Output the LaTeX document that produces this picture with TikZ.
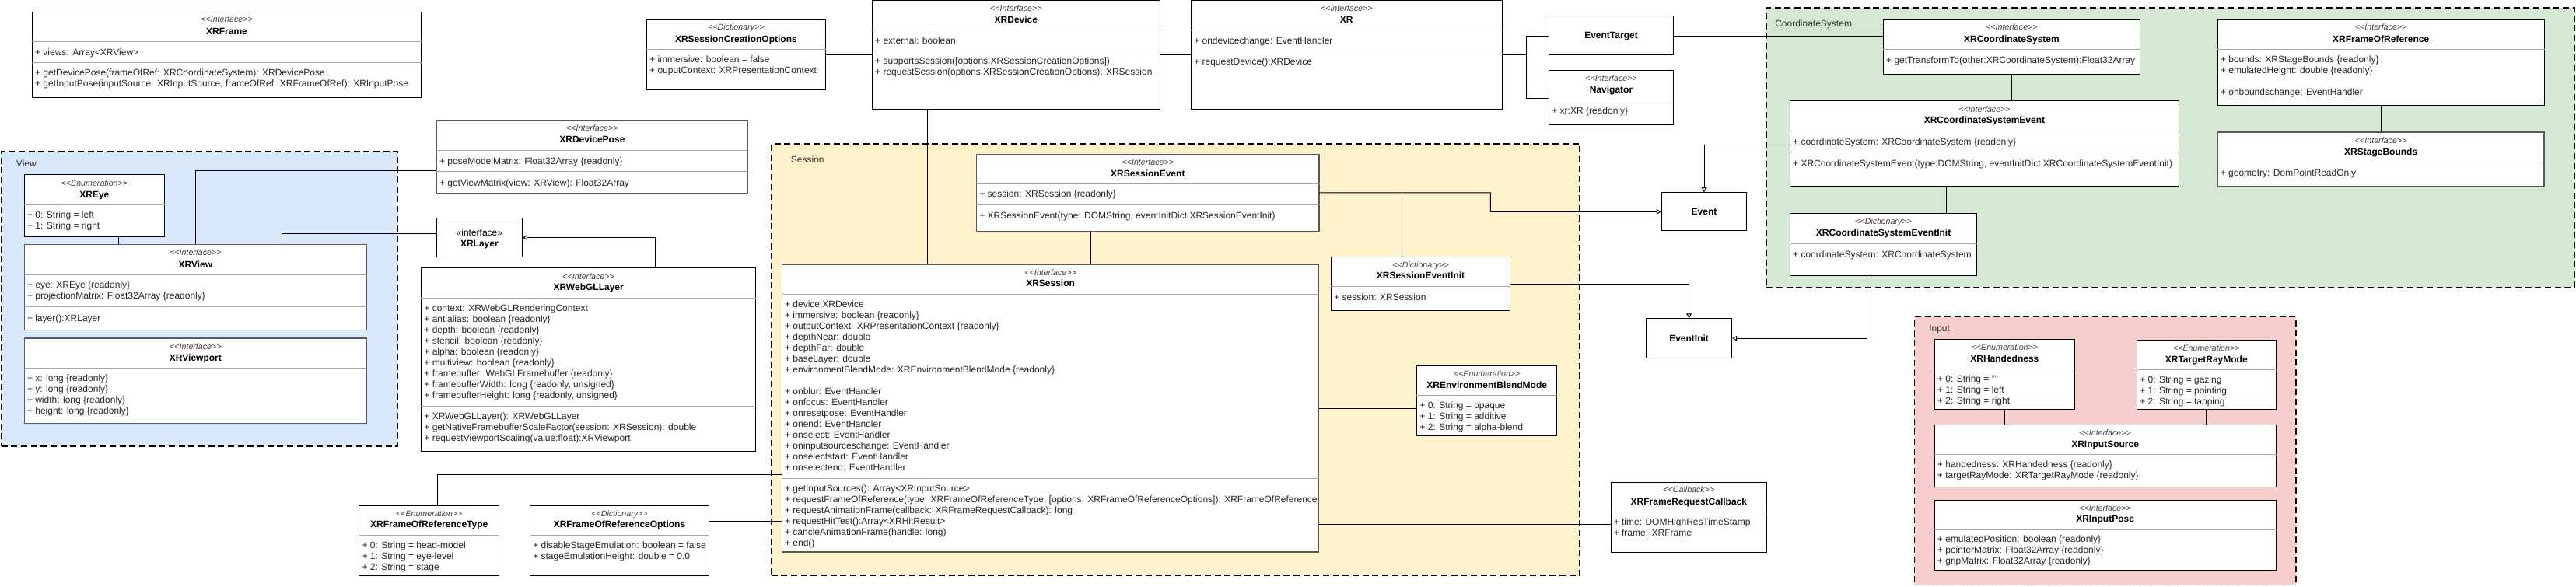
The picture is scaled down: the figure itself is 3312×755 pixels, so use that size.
\documentclass[tikz,border=0pt]{standalone}
\usepackage{fontspec}
\setmainfont{Liberation Sans}
\usetikzlibrary{fit}
\usetikzlibrary{arrows.meta}
\usetikzlibrary{positioning}
\definecolor{viewblue}{HTML}{DAE8FC}
\definecolor{sessyellow}{HTML}{FFF2CC}
\definecolor{csgreen}{HTML}{D5E8D4}
\definecolor{inputred}{HTML}{F8CECC}

\begin{document}
\begin{tikzpicture}[
    x=0.75pt, y=-0.75pt,
    font=\fontsize{9}{10.5}\selectfont
]
\tikzset{
    cls/.style = {draw=black, fill=white, line width=0.75pt, inner sep=0pt},
    clsg/.style = {cls, draw=black!65, line width=1pt},
    grp/.style = {draw=black, line width=1pt, dash pattern=on 6pt off 3.5pt, inner sep=0pt},
    grplabel/.style = {anchor=west, inner sep=0pt, text=black!80},
    stereo/.style = {font=\fontsize{8}{10}\selectfont\itshape, text=black!75, inner sep=0pt, text height=5.7pt, text depth=0pt},
    title/.style = {font=\fontsize{9}{10.5}\selectfont\bfseries, inner sep=0pt, text height=6.5pt, text depth=0pt},
    attr/.style = {anchor=north west, align=left, inner sep=0pt, xshift=3pt, text=black!85, execute at begin node=\strut},
    sep/.style = {draw=black!35, line width=0.6pt},
    assoc/.style = {draw=black, line width=0.75pt},
    gen/.style = {assoc, -{Triangle[open, length=4.5pt, width=5pt]}}
}
\useasboundingbox (0,0) rectangle (3312,755);

% package areas
\node[grp, fill=viewblue, fit={(1.8,195) (511.4,574)}] (view) {};
\node[grplabel] (view-l) at (20.7,210) {View};
\node[grp, fill=sessyellow, fit={(991.7,185) (2031.1,740)}] (session) {};
\node[grplabel] (session-l) at (1016.7,205) {Session};
\node[grp, fill=csgreen, fit={(2271.4,10) (3310.5,369.3)}] (coordsys) {};
\node[grplabel] (coordsys-l) at (2282,31) {CoordinateSystem};
\node[grp, fill=inputred, fit={(2461.6,407.7) (2952,752.7)}] (input) {};
\node[grplabel] (input-l) at (2480,423.3) {Input};

% XRFrame
\node[cls, fit={(41.4,15.3) (541.7,125.3)}] (xrframe) {};
\node[stereo] (xrframe-s) at (xrframe.north |- 0,25) {<{}<Interface>{}>};
\node[title] (xrframe-t) at (xrframe.north |- 0,40) {XRFrame};
\draw[sep] (xrframe.west |- 0,53) -- (xrframe.east |- 0,53);
\draw[sep] (xrframe.west |- 0,80.3) -- (xrframe.east |- 0,80.3);
\node[attr] (xrframe-a) at (xrframe.west |- 0,61.2) {+ views: Array<XRView>};
\node[attr] (xrframe-o) at (xrframe.west |- 0,88.5) {+ getDevicePose(frameOfRef: XRCoordinateSystem): XRDevicePose\\+ getInputPose(inputSource: XRInputSource, frameOfRef: XRFrameOfRef): XRInputPose};

% XREye
\node[cls, fit={(31.4,224.7) (211.4,304.7)}] (xreye) {};
\node[stereo] (xreye-s) at (xreye.north |- 0,235.7) {<{}<Enumeration>{}>};
\node[title] (xreye-t) at (xreye.north |- 0,250) {XREye};
\draw[sep] (xreye.west |- 0,263.3) -- (xreye.east |- 0,263.3);
\node[attr] (xreye-a) at (xreye.west |- 0,271.2) {+ 0: String = left\\+ 1: String = right};

% XRView
\node[clsg, fit={(31.4,314.3) (471.4,424.3)}] (xrview) {};
\node[stereo] (xrview-s) at (xrview.north |- 0,325) {<{}<Interface>{}>};
\node[title] (xrview-t) at (xrview.north |- 0,340) {XRView};
\draw[sep] (xrview.west |- 0,353.3) -- (xrview.east |- 0,353.3);
\draw[sep] (xrview.west |- 0,394.3) -- (xrview.east |- 0,394.3);
\node[attr] (xrview-a) at (xrview.west |- 0,361.2) {+ eye: XREye \{readonly\}\\+ projectionMatrix: Float32Array \{readonly\}};
\node[attr] (xrview-o) at (xrview.west |- 0,403.2) {+ layer():XRLayer};

% XRViewport
\node[clsg, fit={(31.4,435) (471.4,544.7)}] (xrviewport) {};
\node[stereo] (xrviewport-s) at (xrviewport.north |- 0,446) {<{}<Interface>{}>};
\node[title] (xrviewport-t) at (xrviewport.north |- 0,459.7) {XRViewport};
\draw[sep] (xrviewport.west |- 0,473.3) -- (xrviewport.east |- 0,473.3);
\node[attr] (xrviewport-a) at (xrviewport.west |- 0,481.2) {+ x: long \{readonly\}\\+ y: long \{readonly\}\\+ width: long \{readonly\}\\+ height: long \{readonly\}};

% XRDevicePose
\node[clsg, fit={(561.4,155) (961.4,248.3)}] (xrdevicepose) {};
\node[stereo] (xrdevicepose-s) at (xrdevicepose.north |- 0,165) {<{}<Interface>{}>};
\node[title] (xrdevicepose-t) at (xrdevicepose.north |- 0,179.3) {XRDevicePose};
\draw[sep] (xrdevicepose.west |- 0,193.3) -- (xrdevicepose.east |- 0,193.3);
\draw[sep] (xrdevicepose.west |- 0,220.7) -- (xrdevicepose.east |- 0,220.7);
\node[attr] (xrdevicepose-a) at (xrdevicepose.west |- 0,201.2) {+ poseModelMatrix: Float32Array \{readonly\}};
\node[attr] (xrdevicepose-o) at (xrdevicepose.west |- 0,229.5) {+ getViewMatrix(view: XRView): Float32Array};

% XRLayer
\node[cls, fit={(561.4,280.7) (671.4,330.3)}] (xrlayer) {};
\node[inner sep=0pt, text height=6.5pt, text depth=0pt] (xrlayer-s) at (xrlayer.north |- 0,299) {«interface»};
\node[title] (xrlayer-t) at (xrlayer.north |- 0,313.3) {XRLayer};

% XRWebGLLayer
\node[cls, fit={(541.7,345) (971.6,580)}] (xrwebgl) {};
\node[stereo] (xrwebgl-s) at (xrwebgl.north |- 0,355.7) {<{}<Interface>{}>};
\node[title] (xrwebgl-t) at (xrwebgl.north |- 0,369) {XRWebGLLayer};
\draw[sep] (xrwebgl.west |- 0,383.3) -- (xrwebgl.east |- 0,383.3);
\draw[sep] (xrwebgl.west |- 0,522.3) -- (xrwebgl.east |- 0,522.3);
\node[attr] (xrwebgl-a) at (xrwebgl.west |- 0,391.2) {+ context: XRWebGLRenderingContext\\+ antialias: boolean \{readonly\}\\+ depth: boolean \{readonly\}\\+ stencil: boolean \{readonly\}\\+ alpha: boolean \{readonly\}\\+ multiview: boolean \{readonly\}\\+ framebuffer: WebGLFramebuffer \{readonly\}\\+ framebufferWidth: long \{readonly, unsigned\}\\+ framebufferHeight: long \{readonly, unsigned\}};
\node[attr] (xrwebgl-o) at (xrwebgl.west |- 0,530.2) {+ XRWebGLLayer(): XRWebGLLayer\\+ getNativeFramebufferScaleFactor(session: XRSession): double\\+ requestViewportScaling(value:float):XRViewport};

% XRSessionCreationOptions
\node[cls, fit={(831.4,25.7) (1061.4,115.3)}] (xrsco) {};
\node[stereo] (xrsco-s) at (xrsco.north |- 0,34.7) {<{}<Dictionary>{}>};
\node[title] (xrsco-t) at (xrsco.north |- 0,50) {XRSessionCreationOptions};
\draw[sep] (xrsco.west |- 0,63) -- (xrsco.east |- 0,63);
\node[attr] (xrsco-a) at (xrsco.west |- 0,71.2) {+ immersive: boolean = false\\+ ouputContext: XRPresentationContext};

% XRDevice
\node[cls, fit={(1121.4,1) (1491.4,140.3)}] (xrdevice) {};
\node[stereo] (xrdevice-s) at (xrdevice.north |- 0,11) {<{}<Interface>{}>};
\node[title] (xrdevice-t) at (xrdevice.north |- 0,25) {XRDevice};
\draw[sep] (xrdevice.west |- 0,38.3) -- (xrdevice.east |- 0,38.3);
\draw[sep] (xrdevice.west |- 0,65.3) -- (xrdevice.east |- 0,65.3);
\node[attr] (xrdevice-a) at (xrdevice.west |- 0,46.2) {+ external: boolean};
\node[attr] (xrdevice-o) at (xrdevice.west |- 0,73.8) {+ supportsSession([options:XRSessionCreationOptions])\\+ requestSession(options:XRSessionCreationOptions): XRSession};

% XR
\node[cls, fit={(1531.5,1) (1931,140.3)}] (xr) {};
\node[stereo] (xr-s) at (xr.north |- 0,11) {<{}<Interface>{}>};
\node[title] (xr-t) at (xr.north |- 0,25) {XR};
\draw[sep] (xr.west |- 0,38.3) -- (xr.east |- 0,38.3);
\draw[sep] (xr.west |- 0,65.3) -- (xr.east |- 0,65.3);
\node[attr] (xr-a) at (xr.west |- 0,46.2) {+ ondevicechange: EventHandler};
\node[attr] (xr-o) at (xr.west |- 0,73.5) {+ requestDevice():XRDevice};

% EventTarget, Navigator
\node[cls, fit={(1991.6,20.7) (2151.4,70.3)}] (eventtarget) {};
\node[title] (eventtarget-t) at (eventtarget.center) {EventTarget};
\node[cls, fit={(1991.6,90.3) (2151.4,160.3)}] (navigator) {};
\node[stereo] (navigator-s) at (navigator.north |- 0,100.3) {<{}<Interface>{}>};
\node[title] (navigator-t) at (navigator.north |- 0,115) {Navigator};
\draw[sep] (navigator.west |- 0,128) -- (navigator.east |- 0,128);
\node[attr] (navigator-a) at (navigator.west |- 0,136.5) {+ xr:XR \{readonly\}};

% XRSessionEvent
\node[clsg, fit={(1255.7,198.3) (1695.9,297.7)}] (xrsessionevent) {};
\node[stereo] (xrsessionevent-s) at (xrsessionevent.north |- 0,209) {<{}<Interface>{}>};
\node[title] (xrsessionevent-t) at (xrsessionevent.north |- 0,222.7) {XRSessionEvent};
\draw[sep] (xrsessionevent.west |- 0,236) -- (xrsessionevent.east |- 0,236);
\draw[sep] (xrsessionevent.west |- 0,263.3) -- (xrsessionevent.east |- 0,263.3);
\node[attr] (xrsessionevent-a) at (xrsessionevent.west |- 0,243.8) {+ session: XRSession \{readonly\}};
\node[attr] (xrsessionevent-o) at (xrsessionevent.west |- 0,271.2) {+ XRSessionEvent(type: DOMString, eventInitDict:XRSessionEventInit)};

% XRSession
\node[clsg, fit={(1005.5,340) (1695.7,710)}] (xrsession) {};
\node[stereo] (xrsession-s) at (xrsession.north |- 0,351) {<{}<Interface>{}>};
\node[title] (xrsession-t) at (xrsession.north |- 0,364.3) {XRSession};
\draw[sep] (xrsession.west |- 0,378.3) -- (xrsession.east |- 0,378.3);
\draw[sep] (xrsession.west |- 0,615.7) -- (xrsession.east |- 0,615.7);
\node[attr] (xrsession-a) at (xrsession.west |- 0,386.2) {+ device:XRDevice\\+ immersive: boolean \{readonly\}\\+ outputContext: XRPresentationContext \{readonly\}\\+ depthNear: double\\+ depthFar: double\\+ baseLayer: double\\+ environmentBlendMode: XREnvironmentBlendMode \{readonly\}\\[10.5pt]+ onblur: EventHandler\\+ onfocus: EventHandler\\+ onresetpose: EventHandler\\+ onend: EventHandler\\+ onselect: EventHandler\\+ oninputsourceschange: EventHandler\\+ onselectstart: EventHandler\\+ onselectend: EventHandler};
\node[attr] (xrsession-o) at (xrsession.west |- 0,623.8) {+ getInputSources(): Array<XRInputSource>\\+ requestFrameOfReference(type: XRFrameOfReferenceType, [options: XRFrameOfReferenceOptions]): XRFrameOfReference\\+ requestAnimationFrame(callback: XRFrameRequestCallback): long\\+ requestHitTest():Array<XRHitResult>\\+ cancleAnimationFrame(handle: long)\\+ end()};

% XRSessionEventInit
\node[cls, fit={(1711.5,330.3) (1941.5,400)}] (xrsessioneventinit) {};
\node[stereo] (xrsessioneventinit-s) at (xrsessioneventinit.north |- 0,340.7) {<{}<Dictionary>{}>};
\node[title] (xrsessioneventinit-t) at (xrsessioneventinit.north |- 0,354.3) {XRSessionEventInit};
\draw[sep] (xrsessioneventinit.west |- 0,368.3) -- (xrsessioneventinit.east |- 0,368.3);
\node[attr] (xrsessioneventinit-a) at (xrsessioneventinit.west |- 0,376.2) {+ session: XRSession};

% Event, EventInit
\node[cls, fit={(2136.3,247.7) (2245.7,297)}] (event) {};
\node[title] (event-t) at (event.center) {Event};
\node[cls, fit={(2116.5,410) (2226.7,460.3)}] (eventinit) {};
\node[title] (eventinit-t) at (eventinit.center) {EventInit};

% XREnvironmentBlendMode
\node[cls, fit={(1821.7,470.7) (2001.7,560.3)}] (xrenvblend) {};
\node[stereo] (xrenvblend-s) at (xrenvblend.north |- 0,480.7) {<{}<Enumeration>{}>};
\node[title] (xrenvblend-t) at (xrenvblend.north |- 0,495) {XREnvironmentBlendMode};
\draw[sep] (xrenvblend.west |- 0,508.3) -- (xrenvblend.east |- 0,508.3);
\node[attr] (xrenvblend-a) at (xrenvblend.west |- 0,516.5) {+ 0: String = opaque\\+ 1: String = additive\\+ 2: String = alpha-blend};

% XRFrameRequestCallback
\node[cls, fit={(2071,620.3) (2271.7,710)}] (xrframecb) {};
\node[stereo] (xrframecb-s) at (xrframecb.north |- 0,630) {<{}<Callback>{}>};
\node[title] (xrframecb-t) at (xrframecb.north |- 0,645) {XRFrameRequestCallback};
\draw[sep] (xrframecb.west |- 0,658.3) -- (xrframecb.east |- 0,658.3);
\node[attr] (xrframecb-a) at (xrframecb.west |- 0,666.2) {+ time: DOMHighResTimeStamp\\+ frame: XRFrame};

% XRFrameOfReferenceType, XRFrameOfReferenceOptions
\node[cls, fit={(461.8,650.7) (641.7,740)}] (xrfortype) {};
\node[stereo] (xrfortype-s) at (xrfortype.north |- 0,661) {<{}<Enumeration>{}>};
\node[title] (xrfortype-t) at (xrfortype.north |- 0,674.3) {XRFrameOfReferenceType};
\draw[sep] (xrfortype.west |- 0,688.3) -- (xrfortype.east |- 0,688.3);
\node[attr] (xrfortype-a) at (xrfortype.west |- 0,696.2) {+ 0: String = head-model\\+ 1: String = eye-level\\+ 2: String = stage};
\node[cls, fit={(681.5,650.7) (911.5,740)}] (xrforopts) {};
\node[stereo] (xrforopts-s) at (xrforopts.north |- 0,661) {<{}<Dictionary>{}>};
\node[title] (xrforopts-t) at (xrforopts.north |- 0,674.3) {XRFrameOfReferenceOptions};
\draw[sep] (xrforopts.west |- 0,688.3) -- (xrforopts.east |- 0,688.3);
\node[attr] (xrforopts-a) at (xrforopts.west |- 0,696.2) {+ disableStageEmulation: boolean = false\\+ stageEmulationHeight: double = 0.0};

% XRCoordinateSystem
\node[cls, fit={(2421.4,25.7) (2751.4,95.3)}] (xrcs) {};
\node[stereo] (xrcs-s) at (xrcs.north |- 0,34.7) {<{}<Interface>{}>};
\node[title] (xrcs-t) at (xrcs.north |- 0,50) {XRCoordinateSystem};
\draw[sep] (xrcs.west |- 0,63) -- (xrcs.east |- 0,63);
\node[attr] (xrcs-o) at (xrcs.west |- 0,71.2) {+ getTransformTo(other:XRCoordinateSystem):Float32Array};

% XRCoordinateSystemEvent
\node[cls, fit={(2301.4,130) (2801.5,240)}] (xrcsevent) {};
\node[stereo] (xrcsevent-s) at (xrcsevent.north |- 0,141) {<{}<Interface>{}>};
\node[title] (xrcsevent-t) at (xrcsevent.north |- 0,154.3) {XRCoordinateSystemEvent};
\draw[sep] (xrcsevent.west |- 0,168.3) -- (xrcsevent.east |- 0,168.3);
\draw[sep] (xrcsevent.west |- 0,195.7) -- (xrcsevent.east |- 0,195.7);
\node[attr] (xrcsevent-a) at (xrcsevent.west |- 0,176.8) {+ coordinateSystem: XRCoordinateSystem \{readonly\}};
\node[attr] (xrcsevent-o) at (xrcsevent.west |- 0,204.5) {+ XRCoordinateSystemEvent(type:DOMString, eventInitDict XRCoordinateSystemEventInit)};

% XRCoordinateSystemEventInit
\node[cls, fit={(2301.4,275) (2541.8,355)}] (xrcseventinit) {};
\node[stereo] (xrcseventinit-s) at (xrcseventinit.north |- 0,285) {<{}<Dictionary>{}>};
\node[title] (xrcseventinit-t) at (xrcseventinit.north |- 0,299.3) {XRCoordinateSystemEventInit};
\draw[sep] (xrcseventinit.west |- 0,313.3) -- (xrcseventinit.east |- 0,313.3);
\node[attr] (xrcseventinit-a) at (xrcseventinit.west |- 0,321.2) {+ coordinateSystem: XRCoordinateSystem};

% XRFrameOfReference, XRStageBounds
\node[cls, fit={(2851.2,25.7) (3271.1,135.3)}] (xrfor) {};
\node[stereo] (xrfor-s) at (xrfor.north |- 0,34.7) {<{}<Interface>{}>};
\node[title] (xrfor-t) at (xrfor.north |- 0,50) {XRFrameOfReference};
\draw[sep] (xrfor.west |- 0,63) -- (xrfor.east |- 0,63);
\node[attr] (xrfor-a) at (xrfor.west |- 0,71.2) {+ bounds: XRStageBounds \{readonly\}\\+ emulatedHeight: double \{readonly\}\\[10.5pt]+ onboundschange: EventHandler};
\node[clsg, fit={(2851.2,170) (3271.1,240)}] (xrstagebounds) {};
\node[stereo] (xrstagebounds-s) at (xrstagebounds.north |- 0,181) {<{}<Interface>{}>};
\node[title] (xrstagebounds-t) at (xrstagebounds.north |- 0,195) {XRStageBounds};
\draw[sep] (xrstagebounds.west |- 0,208.3) -- (xrstagebounds.east |- 0,208.3);
\node[attr] (xrstagebounds-a) at (xrstagebounds.west |- 0,216.2) {+ geometry: DomPointReadOnly};

% Input
\node[cls, fit={(2487.2,436.3) (2667.5,526)}] (xrhand) {};
\node[stereo] (xrhand-s) at (xrhand.north |- 0,446.7) {<{}<Enumeration>{}>};
\node[title] (xrhand-t) at (xrhand.north |- 0,460.7) {XRHandedness};
\draw[sep] (xrhand.west |- 0,474.3) -- (xrhand.east |- 0,474.3);
\node[attr] (xrhand-a) at (xrhand.west |- 0,482.5) {+ 0: String = ""\\+ 1: String = left\\+ 2: String = right};
\node[cls, fit={(2747.5,437.7) (2926,526.7)}] (xrtarget) {};
\node[stereo] (xrtarget-s) at (xrtarget.north |- 0,447.7) {<{}<Enumeration>{}>};
\node[title] (xrtarget-t) at (xrtarget.north |- 0,461.7) {XRTargetRayMode};
\draw[sep] (xrtarget.west |- 0,475.3) -- (xrtarget.east |- 0,475.3);
\node[attr] (xrtarget-a) at (xrtarget.west |- 0,483.5) {+ 0: String = gazing\\+ 1: String = pointing\\+ 2: String = tapping};
\node[cls, fit={(2487.2,546.7) (2926,626)}] (xrinputsource) {};
\node[stereo] (xrinputsource-s) at (xrinputsource.north |- 0,556.7) {<{}<Interface>{}>};
\node[title] (xrinputsource-t) at (xrinputsource.north |- 0,571) {XRInputSource};
\draw[sep] (xrinputsource.west |- 0,584.3) -- (xrinputsource.east |- 0,584.3);
\node[attr] (xrinputsource-a) at (xrinputsource.west |- 0,592.2) {+ handedness: XRHandedness \{readonly\}\\+ targetRayMode: XRTargetRayMode \{readonly\}};
\node[cls, fit={(2487.2,643.3) (2926,733.3)}] (xrinputpose) {};
\node[stereo] (xrinputpose-s) at (xrinputpose.north |- 0,653.3) {<{}<Interface>{}>};
\node[title] (xrinputpose-t) at (xrinputpose.north |- 0,667.3) {XRInputPose};
\draw[sep] (xrinputpose.west |- 0,681.7) -- (xrinputpose.east |- 0,681.7);
\node[attr] (xrinputpose-a) at (xrinputpose.west |- 0,688.8) {+ emulatedPosition: boolean \{readonly\}\\+ pointerMatrix: Float32Array \{readonly\}\\+ gripMatrix: Float32Array \{readonly\}};

% connectors
\coordinate (xrjoin) at (1962.2,70.3);
\coordinate (evjoin) at (1916.3,272.3);
\draw[assoc] (xreye.south -| 152.5,0) -- (xrview.north -| 152.5,0);
\draw[assoc] (xrview.north) |- (xrdevicepose.west |- 0,220);
\draw[assoc] (xrview.north -| 362.5,0) |- (xrlayer.west |- 0,300.3);
\draw[gen] (xrwebgl.north -| 842.5,0) |- (xrlayer.east);
\draw[assoc] (xrfortype.north -| 562.5,0) |- (xrsession.west |- 0,610);
\draw[assoc] (xrforopts.east |- 0,670) -- (xrsession.west |- 0,670);
\draw[assoc] (xrsco.east) -- (xrdevice.west |- xrsco.east);
\draw[assoc] (xrdevice.south -| 1192.8,0) -- (xrsession.north -| 1192.8,0);
\draw[assoc] (xrdevice.east) -- (xr.west |- xrdevice.east);
\draw[assoc] (xr.east |- xrjoin) -- (xrjoin);
\draw[assoc] (eventtarget.west |- 0,46.7) -| (xrjoin) |- (navigator.west |- 0,126.3);
\draw[assoc] (eventtarget.east |- 0,46.7) -- (xrcs.west |- 0,46.7);
\draw[assoc] (xrsessionevent.south -| 1402.5,0) -- (xrsession.north -| 1402.5,0);
\draw[gen] (xrsessionevent.east) -| (evjoin) -- (event.west);
\draw[assoc] (xrsessionevent.east -| 1802.4,0) -- (xrsessioneventinit.north -| 1802.4,0);
\draw[gen] (xrsessioneventinit.east) -| (eventinit.north);
\draw[gen] (xrcsevent.west |- 0,186.7) -| (event.north);
\draw[gen] (xrcseventinit.south -| 2400.7,0) |- (eventinit.east);
\draw[assoc] (xrsession.east |- 0,525.5) -- (xrenvblend.west |- 0,525.5);
\draw[assoc] (xrsession.east |- 0,674) -- (xrframecb.west |- 0,674);
\draw[assoc] (xrcs.south) -- (xrcsevent.north -| xrcs.south);
\draw[assoc] (xrcsevent.south -| 2502.5,0) -- (xrcseventinit.north -| 2502.5,0);
\draw[assoc] (xrfor.south) -- (xrstagebounds.north -| xrfor.south);
\draw[assoc] (xrhand.south) -- (xrinputsource.north -| xrhand.south);
\draw[assoc] (xrtarget.south) -- (xrinputsource.north -| xrtarget.south);
\end{tikzpicture}
\end{document}
